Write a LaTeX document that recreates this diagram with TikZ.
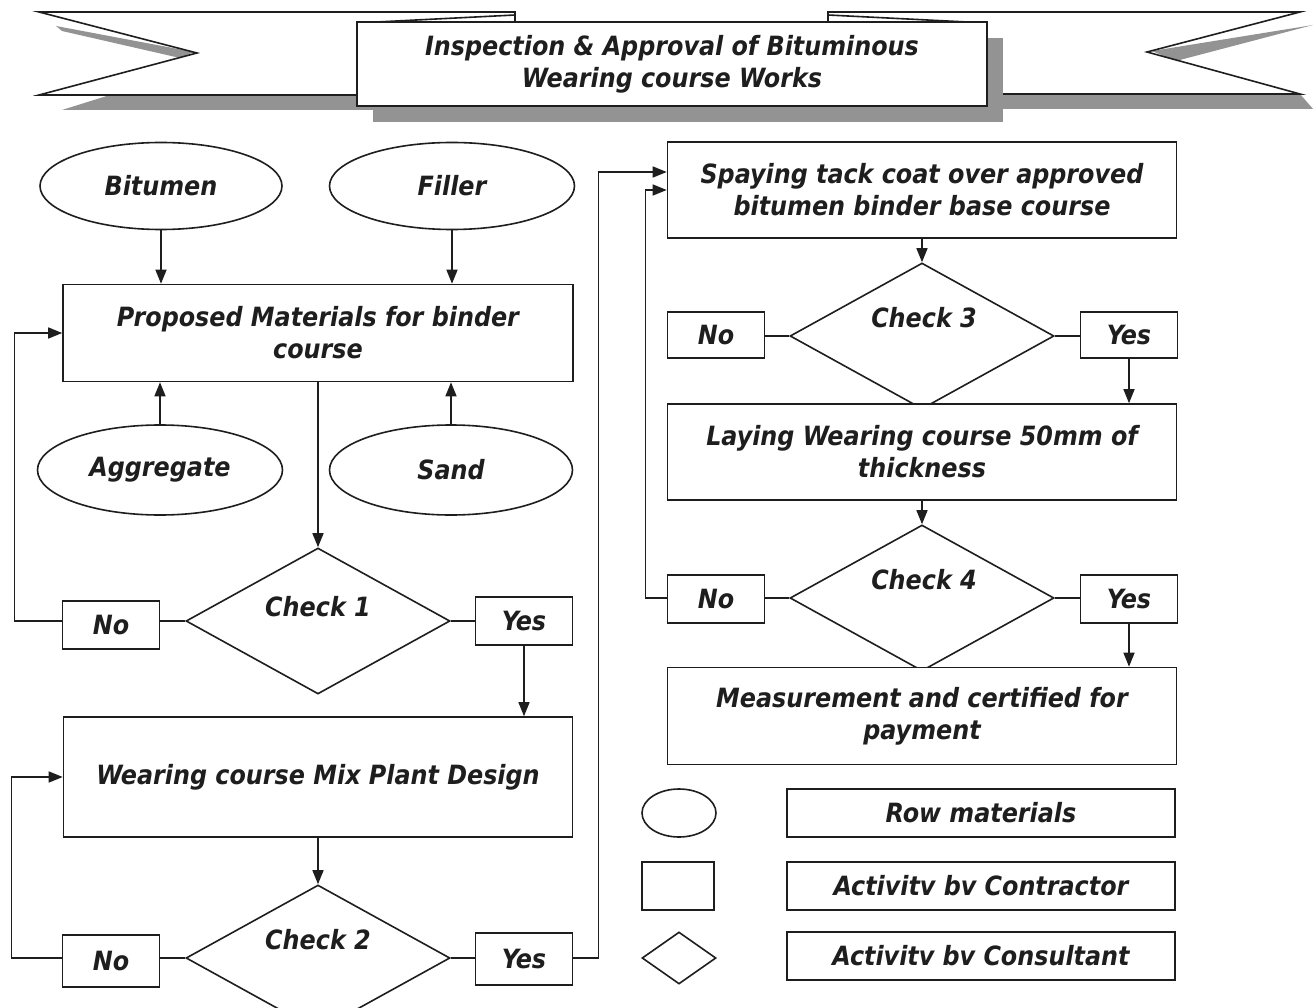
\documentclass[tikz,border=0pt]{standalone}
\usepackage{fontspec}
\newfontfamily\flowfont{DejaVu Sans Condensed}
\usetikzlibrary{shapes.geometric,arrows.meta}

\definecolor{ink}{HTML}{1E1E1E}
\definecolor{shadowgray}{HTML}{939393}

\tikzset{
  every node/.style={font=\flowfont\bfseries\itshape\fontsize{26.5}{32}\selectfont, text=ink},
  outline/.style={draw=ink, line width=1.6pt},
  box/.style={outline, rectangle, fill=white, align=center, inner sep=0pt},
  rawmat/.style={outline, ellipse, fill=white, inner sep=0pt},
  decision/.style={outline, diamond, fill=white, inner sep=0pt, minimum width=264pt, minimum height=146pt},
  answer/.style={box, minimum width=97pt, minimum height=48pt},
  wide/.style={box, minimum width=509pt, minimum height=96pt},
  legendbox/.style={box, minimum width=388pt, minimum height=48pt},
  wire/.style={draw=ink, line width=1.5pt},
  flow/.style={wire, -{Triangle[length=14pt,width=11pt]}},
}

\begin{document}
\begin{tikzpicture}[x=1pt,y=-1pt]
  \useasboundingbox (0,0) rectangle (1316,1008);
  \clip (0,0) rectangle (1316,1008);
  \fill[white] (0,0) rectangle (1316,1008);

  % ---------- title banner ----------
  % shadows: bands under the ribbons and wedges inside the notches
  \fill[shadowgray] (110,95) -- (520,95) -- (520,110) -- (62,110) -- cycle;
  \fill[shadowgray] (820,94) -- (1300,94) -- (1313,109) -- (820,109) -- cycle;
  \fill[shadowgray] (56,26) -- (194,52) -- (180,58) -- (62,31) -- cycle;
  \fill[shadowgray] (1313,25) -- (1152,51) -- (1176,61) -- cycle;
  % ribbons
  \filldraw[fill=white, outline, line join=miter] (39,12) -- (515,12) -- (515,95) -- (39,95) -- (197,53) -- cycle;
  \filldraw[fill=white, outline, line join=miter] (1300,12) -- (828,12) -- (828,94) -- (1300,94) -- (1147,52) -- cycle;
  % folds running behind the title plate
  \draw[outline] (357,23) -- (515,15);
  \draw[outline] (828,15) -- (987,23);
  % title plate and its shadow
  \fill[shadowgray] (373,38) rectangle (1003,122);
  \node[box, minimum width=630pt, minimum height=84pt] (title) at (672,64)
    {Inspection \& Approval of Bituminous\\Wearing course Works};

  % ---------- left column ----------
  \node[rawmat, minimum width=242pt, minimum height=87pt] (bit) at (161,186) {Bitumen};
  \node[rawmat, minimum width=245pt, minimum height=87pt] (fil) at (452,186) {Filler};
  \node[box, minimum width=510pt, minimum height=97pt] (prop) at (318,333)
    {Proposed Materials for binder\\course};
  \node[rawmat, minimum width=245pt, minimum height=90pt] (agg) at (160,470) {Aggregate};
  \node[rawmat, minimum width=243pt, minimum height=90pt] (sand) at (451,470) {Sand};

  \node[decision] (c1) at (318,621) {};
  \node at (318,607) {Check 1};
  \node[answer] (no1) at (111,625) {No};
  \node[answer] (yes1) at (524,621) {Yes};

  \node[wide, minimum height=120pt] (mix) at (318,777) {Wearing course Mix Plant Design};

  \node[decision] (c2) at (318,958) {};
  \node at (318,940) {Check 2};
  \node[answer, minimum height=52pt] (no2) at (111,961) {No};
  \node[answer, minimum height=52pt] (yes2) at (524,959) {Yes};

  % ---------- right column ----------
  \node[wide] (spray) at (922,190)
    {Spaying tack coat over approved\\bitumen binder base course};
  \node[decision] (c3) at (922,336) {};
  \node at (924,318) {Check 3};
  \node[answer, minimum height=46pt] (no3) at (716,335) {No};
  \node[answer, minimum height=46pt] (yes3) at (1129,335) {Yes};

  \node[wide] (lay) at (922,452) {Laying Wearing course 50mm of\\thickness};
  \node[decision] (c4) at (922,598) {};
  \node at (924,580) {Check 4};
  \node[answer] (no4) at (716,599) {No};
  \node[answer] (yes4) at (1129,599) {Yes};

  \node[wide, minimum height=97pt] (meas) at (922,716)
    {Measurement and certified for\\payment};

  % ---------- legend ----------
  \node[rawmat, minimum width=74pt, minimum height=48pt] (keyoval) at (679,813) {};
  \node[box, minimum width=72pt, minimum height=48pt] (keyrect) at (678,886) {};
  \node[decision, minimum width=74pt, minimum height=52pt] (keydia) at (679,958) {};
  \node[legendbox] (keyraw) at (981,813) {Row materials};
  \node[legendbox] (keycon) at (981,886) {Activitv bv Contractor};
  \node[legendbox] (keycons) at (981,956) {Activitv bv Consultant};

  % ---------- connectors ----------
  \draw[flow] (bit.south) -- (bit.south |- prop.north);
  \draw[flow] (fil.south) -- (fil.south |- prop.north);
  \draw[flow] (agg.north) -- (agg.north |- prop.south);
  \draw[flow] (sand.north) -- (sand.north |- prop.south);
  \draw[flow] (prop.south) -- (c1.north);

  \draw[wire] (c1.west) -- (c1.west -| no1.east);
  \draw[flow] (no1.west |- c1.west) -- ++(-47,0) |- (prop.west);
  \draw[wire] (c1.east) -- (c1.east -| yes1.west);
  \draw[flow] (yes1.south) -- (yes1.south |- mix.north);

  \draw[flow] (mix.south) -- (c2.north);
  \draw[wire] (c2.west) -- (c2.west -| no2.east);
  \draw[flow] (no2.west |- c2.west) -- ++(-50,0) |- (mix.west);
  \draw[wire] (c2.east) -- (c2.east -| yes2.west);
  \draw[flow] (yes2.east |- c2.east) -- ++(25,0) |- ([yshift=18pt]spray.west);

  \draw[flow] (spray.south) -- (c3.north);
  \draw[wire] (c3.west) -- (c3.west -| no3.east);
  \draw[wire] (c3.east) -- (c3.east -| yes3.west);
  \draw[flow] (yes3.south) -- (yes3.south |- lay.north);

  \draw[flow] (lay.south) -- (c4.north);
  \draw[wire] (c4.west) -- (c4.west -| no4.east);
  \draw[flow] (no4.west |- c4.west) -- ++(-21,0) |- (spray.west);
  \draw[wire] (c4.east) -- (c4.east -| yes4.west);
  \draw[flow] (yes4.south) -- (yes4.south |- meas.north);
\end{tikzpicture}
\end{document}
